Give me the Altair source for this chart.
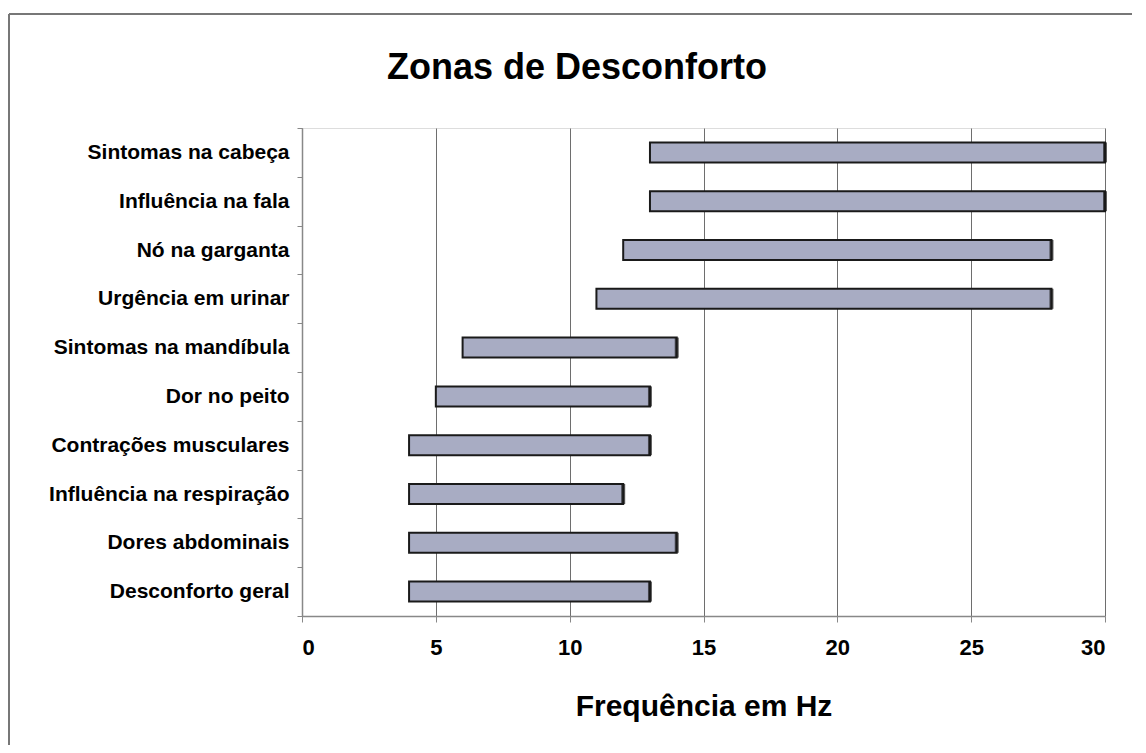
import altair as alt
import pandas as pd

categories = [
    "Sintomas na cabeça",
    "Influência na fala",
    "Nó na garganta",
    "Urgência em urinar",
    "Sintomas na mandíbula",
    "Dor no peito",
    "Contrações musculares",
    "Influência na respiração",
    "Dores abdominais",
    "Desconforto geral",
]
start_hz = [13, 13, 12, 11, 6, 5, 4, 4, 4, 4]
end_hz = [30, 30, 28, 28, 14, 13, 13, 12, 14, 13]
x_ticks = [0, 5, 10, 15, 20, 25, 30]
chart_title = "Zonas de Desconforto"

df = pd.DataFrame({"zona": categories, "inicio": start_hz, "fim": end_hz})
one_row = pd.DataFrame({"k": [0]})

FONT = "Liberation Sans"

y_enc = alt.Y(
    "zona:N",
    sort=categories,
    title=None,
    scale=alt.Scale(paddingInner=0, paddingOuter=0),
    axis=alt.Axis(
        tickBand="extent",
        labelFont=FONT,
        labelFontSize=21,
        labelFontWeight="bold",
        labelColor="#000000",
        labelLimit=0,
        labelPadding=8,
        tickSize=5,
        tickColor="#888888",
        domainColor="#888888",
        domainWidth=1.5,
        grid=False,
    ),
)

x_enc = alt.X(
    "inicio:Q",
    title="Frequência em Hz",
    scale=alt.Scale(domain=[0, 30], nice=False, zero=True),
    axis=alt.Axis(
        values=x_ticks,
        format="d",
        labelFont=FONT,
        labelFontSize=22,
        labelFontWeight="bold",
        labelColor="#000000",
        labelPadding=15,
        tickSize=6,
        tickColor="#888888",
        domainColor="#888888",
        domainWidth=1.5,
        grid=True,
        gridColor="#6e6e6e",
        gridWidth=1,
        titleFont=FONT,
        titleFontSize=30,
        titleFontWeight="bold",
        titleColor="#000000",
        titlePadding=33,
    ),
)

bars = alt.Chart(df).mark_bar(
    height=20, color="#a8acc3", stroke="#1a1a1a", strokeWidth=2
).encode(y=y_enc, x=x_enc, x2="fim:Q")

caps = alt.Chart(df).mark_tick(thickness=4, size=20, color="#1a1a1a").encode(
    y=alt.Y("zona:N", sort=categories),
    x=alt.X("fim:Q"),
)

frame_top = alt.Chart(one_row).mark_rule(color="#777777", strokeWidth=2).encode(
    x=alt.value(-293), x2=alt.value(830), y=alt.value(-114)
)
frame_left = alt.Chart(one_row).mark_rule(color="#777777", strokeWidth=2).encode(
    x=alt.value(-293), y=alt.value(-114), y2=alt.value(617)
)

title_mark = alt.Chart(one_row).mark_text(
    font=FONT, fontSize=36, fontWeight="bold", color="#000000",
    align="center", baseline="middle",
).encode(x=alt.value(275), y=alt.value(-60), text=alt.value(chart_title))

chart = (
    alt.layer(frame_top, frame_left, bars, caps, title_mark)
    .properties(
        width=803,
        height=488,
        padding={"left": 0, "top": 5, "right": 5, "bottom": 5},
    )
    .configure_view(stroke=None)
    .configure(background="#ffffff")
)

chart.save("out.html", embed_options={"renderer": "svg", "actions": False})
